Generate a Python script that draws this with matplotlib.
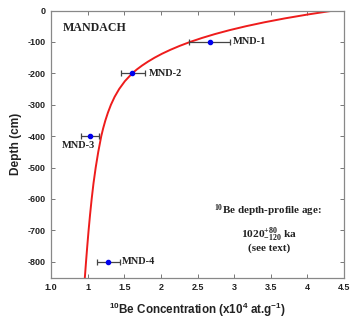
import matplotlib
matplotlib.use("Agg")
import matplotlib.pyplot as plt

# Sample data
sample_names = ["MND-1", "MND-2", "MND-3", "MND-4"]
sample_depth = [-100, -200, -400, -800]
sample_conc = [2.67, 1.61, 1.03, 1.28]
sample_err_lo = [0.28, 0.16, 0.12, 0.15]
sample_err_hi = [0.28, 0.17, 0.12, 0.16]

# Model curve
curve_depth = [0, -12.5, -25, -37.5, -50, -62.5, -75, -87.5, -100, -112.5, -125, -137.5, -150,
               -162.5, -175, -187.5, -200, -225, -250, -275, -300, -325, -350, -375, -400,
               -450, -500, -550, -600, -650, -700, -750, -800, -850]
curve_conc = [4.36, 4.008, 3.693, 3.412, 3.161, 2.937, 2.737, 2.559, 2.399, 2.257, 2.130, 2.016, 1.915,
              1.825, 1.744, 1.672, 1.608, 1.508, 1.430, 1.368, 1.318, 1.277, 1.242, 1.212, 1.186,
              1.145, 1.110, 1.080, 1.055, 1.033, 1.013, 0.995, 0.978, 0.962]

xtick_pos = [0.5, 1.0, 1.5, 2.0, 2.5, 3.0, 3.5, 4.0, 4.5]
xtick_labels = ["1.0", "1", "1.5", "2", "2.5", "3", "3.5", "4", "4.5"]
ytick_pos = [0, -100, -200, -300, -400, -500, -600, -700, -800]
ytick_labels = ["0", "-100", "-200", "-300", "-400", "-500", "-600", "-700", "-800"]

plt.rcParams['font.family'] = ['Liberation Sans', 'DejaVu Sans']

fig = plt.figure(figsize=(3.55, 3.19), dpi=100)
ax = fig.add_axes([0.1437, 0.130, 0.969 - 0.1437, 0.967 - 0.130])

ax.plot(curve_conc, curve_depth, color='#ee1c1c', lw=1.4, zorder=2)
ax.errorbar(sample_conc, sample_depth, xerr=[sample_err_lo, sample_err_hi], fmt='o',
            color='#0000ee', markersize=3, ecolor='#444444', elinewidth=0.9,
            capsize=2.5, capthick=0.9, zorder=3)

serif = ['Liberation Serif', 'DejaVu Serif']
tc = '#222222'
ax.text(2.98, -100, "MND-1", family=serif, fontsize=7.5, fontweight='bold', va='center', ha='left', color=tc)
ax.text(1.83, -200, "MND-2", family=serif, fontsize=7.5, fontweight='bold', va='center', ha='left', color=tc)
ax.text(0.65, -430, "MND-3", family=serif, fontsize=7.5, fontweight='bold', va='center', ha='left', color=tc)
ax.text(1.47, -800, "MND-4", family=serif, fontsize=7.5, fontweight='bold', va='center', ha='left', color=tc)

ax.text(0.66, -56, "MANDACH", family=serif, fontsize=8.6, fontweight='bold', va='center', ha='left', color=tc)

ax.text(3.46, -638, r"$\mathregular{^{10}}$Be depth-profile age:", family=serif, fontsize=7.9, fontweight='bold',
        va='center', ha='center', color=tc)
ax.text(3.48, -717, r"$\mathregular{1020^{+80}_{-120}}$ ka", family=serif, fontsize=8.2, fontweight='bold',
        va='center', ha='center', color=tc)
ax.text(3.48, -757, "(see text)", family=serif, fontsize=7.9, fontweight='bold',
        va='center', ha='center', color=tc)

ax.set_xlim(0.5, 4.5)
ax.set_ylim(-850, 0)
ax.set_xticks(xtick_pos)
ax.set_xticklabels(xtick_labels)
ax.set_yticks(ytick_pos)
ax.set_yticklabels(ytick_labels)
ax.tick_params(direction='in', length=3, width=0.7, color='#777777', labelsize=6.5,
               top=True, right=True, labelcolor=tc, pad=4)
for lab in ax.get_xticklabels() + ax.get_yticklabels():
    lab.set_fontweight('bold')
for s in ax.spines.values():
    s.set_color('#888888')
    s.set_linewidth(0.9)

ax.set_xlabel(r"$\mathregular{^{10}}$Be Concentration (x10$\mathregular{^{4}}$ at.g$\mathregular{^{-1}}$)",
              fontsize=8.4, fontweight='bold', color=tc, labelpad=6)
ax.set_ylabel("Depth (cm)", fontsize=8.6, fontweight='bold', color=tc, labelpad=4)

fig.savefig("out.png", dpi=100)
